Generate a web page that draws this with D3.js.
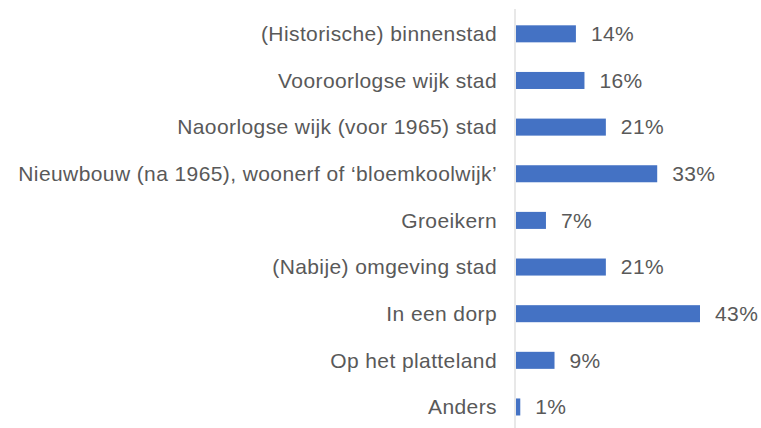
<!DOCTYPE html>
<html>
<head>
<meta charset="utf-8">
<script src="https://cdn.jsdelivr.net/npm/d3@7"></script>
<style>
  body { margin: 0; background: #fff; }
  text { font-family: "Liberation Sans", Arial, sans-serif; }
</style>
</head>
<body>
<svg id="canvas" width="761" height="428"></svg>
<script>
// Data
const categories = [
    '(Historische) binnenstad',
    'Vooroorlogse wijk stad',
    'Naoorlogse wijk (voor 1965) stad',
    'Nieuwbouw (na 1965), woonerf of \u2018bloemkoolwijk\u2019',
    'Groeikern',
    '(Nabije) omgeving stad',
    'In een dorp',
    'Op het platteland',
    'Anders'
];
const values = [14, 16, 21, 33, 7, 21, 43, 9, 1];

const width = 761;
const height = 428;
const barColor = '#4472C4';
const textColor = '#595959';

const svg = d3.select('#canvas');

const x = d3.scaleLinear()
    .domain([0, 43])
    .range([516, 700]);

const y = d3.scaleBand()
    .domain(categories)
    .range([10.5, 430.3])
    .paddingInner(0.635)
    .paddingOuter(0.3175);

// Vertical axis line
svg.append('line')
    .attr('x1', 515).attr('x2', 515)
    .attr('y1', 9).attr('y2', height)
    .attr('stroke', '#d9d9d9')
    .attr('stroke-width', 1.2);

// Bars
svg.selectAll('rect.bar')
    .data(categories)
    .enter()
    .append('rect')
    .attr('class', 'bar')
    .attr('x', x(0))
    .attr('y', d => y(d))
    .attr('width', (d, i) => x(values[i]) - x(0))
    .attr('height', y.bandwidth())
    .attr('fill', barColor);

// Category labels
svg.selectAll('text.label')
    .data(categories)
    .enter()
    .append('text')
    .attr('class', 'label')
    .attr('x', 497)
    .attr('y', d => y(d) + y.bandwidth() / 2)
    .attr('dy', '0.35em')
    .attr('text-anchor', 'end')
    .attr('font-size', 21)
    .attr('letter-spacing', 0.4)
    .attr('fill', textColor)
    .text(d => d);

// Value labels
svg.selectAll('text.value')
    .data(categories)
    .enter()
    .append('text')
    .attr('class', 'value')
    .attr('x', (d, i) => x(values[i]) + 15)
    .attr('y', d => y(d) + y.bandwidth() / 2)
    .attr('dy', '0.35em')
    .attr('font-size', 21)
    .attr('letter-spacing', 0.4)
    .attr('fill', textColor)
    .text((d, i) => values[i] + '%');
</script>
</body>
</html>
